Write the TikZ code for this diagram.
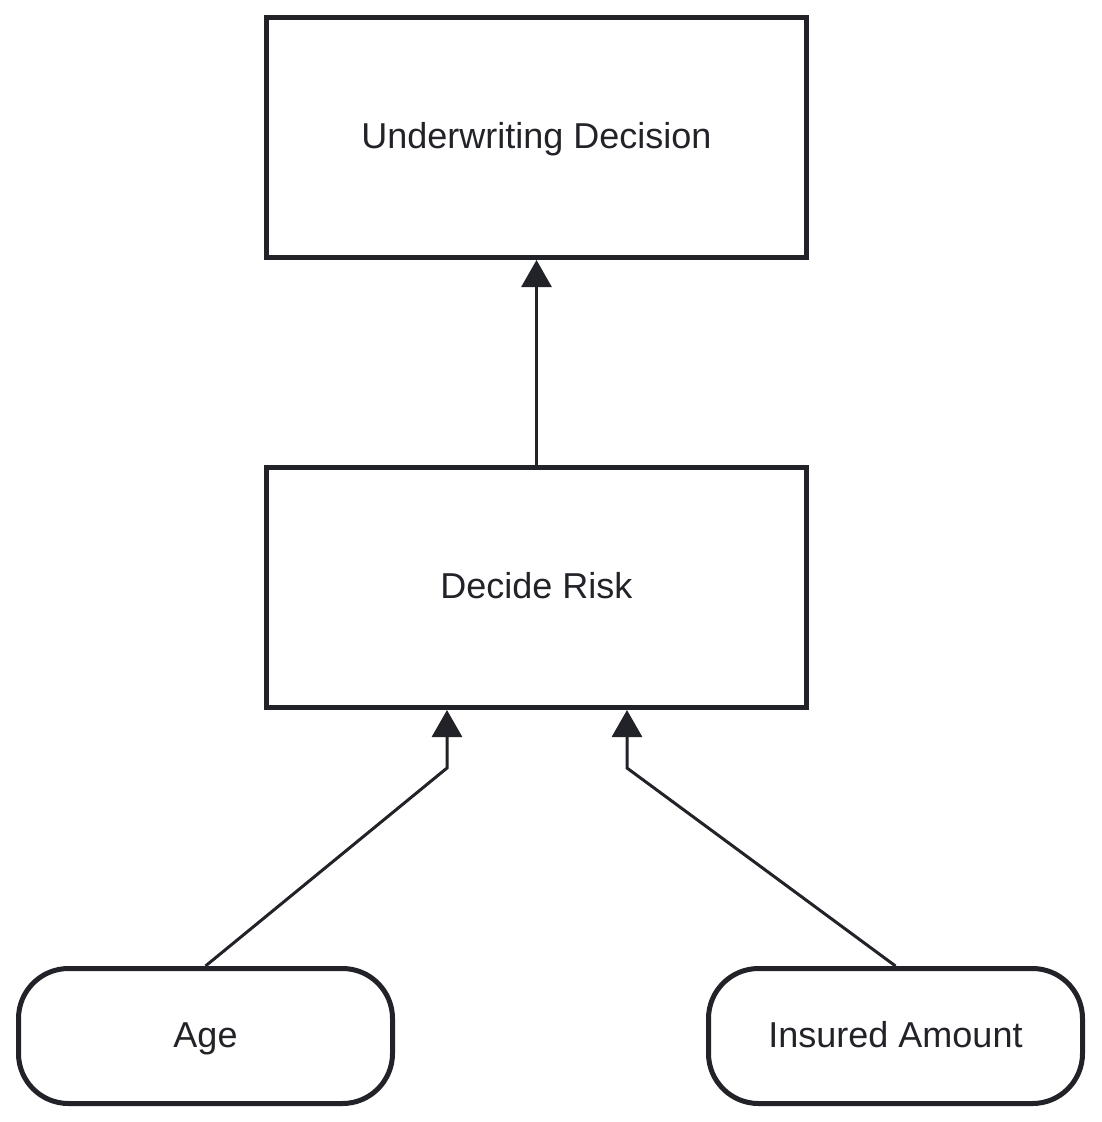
\documentclass[tikz,border=0pt]{standalone}
\usepackage{fontspec}
\setmainfont{Liberation Sans}
\usetikzlibrary{arrows.meta}
\definecolor{ink}{RGB}{34,35,40}
\begin{document}
\begin{tikzpicture}[x=1pt,y=-1pt,
  lbl/.style={text=ink,font=\fontsize{36}{42}\selectfont,text height=26pt,text depth=4pt},
  procbox/.style={lbl,draw=ink,line width=5pt,fill=white,minimum width=540pt,minimum height=240pt,inner sep=0pt},
  inbox/.style={lbl,draw=ink,line width=5pt,fill=white,rounded corners=50pt,minimum width=374pt,minimum height=135pt,inner sep=0pt},
  conn/.style={draw=ink,line width=3pt,-{Triangle[width=30pt,length=27pt]}}]
\useasboundingbox[fill=white] (0,0) rectangle (1101,1122);
\node[procbox] (ud) at (536.5,137.5) {Underwriting Decision};
\node[procbox] (dr) at (536.5,587.5) {Decide Risk};
\node[inbox] (age) at (205.5,1036) {Age};
\node[inbox] (ins) at (895.5,1036) {Insured Amount};
\coordinate (ab) at (447,768);
\coordinate (ib) at (627,768);
\draw[conn] (dr.north) -- (ud.south);
\draw[conn] (age.north) -- (ab) -- (ab |- dr.south);
\draw[conn] (ins.north) -- (ib) -- (ib |- dr.south);
\end{tikzpicture}
\end{document}
